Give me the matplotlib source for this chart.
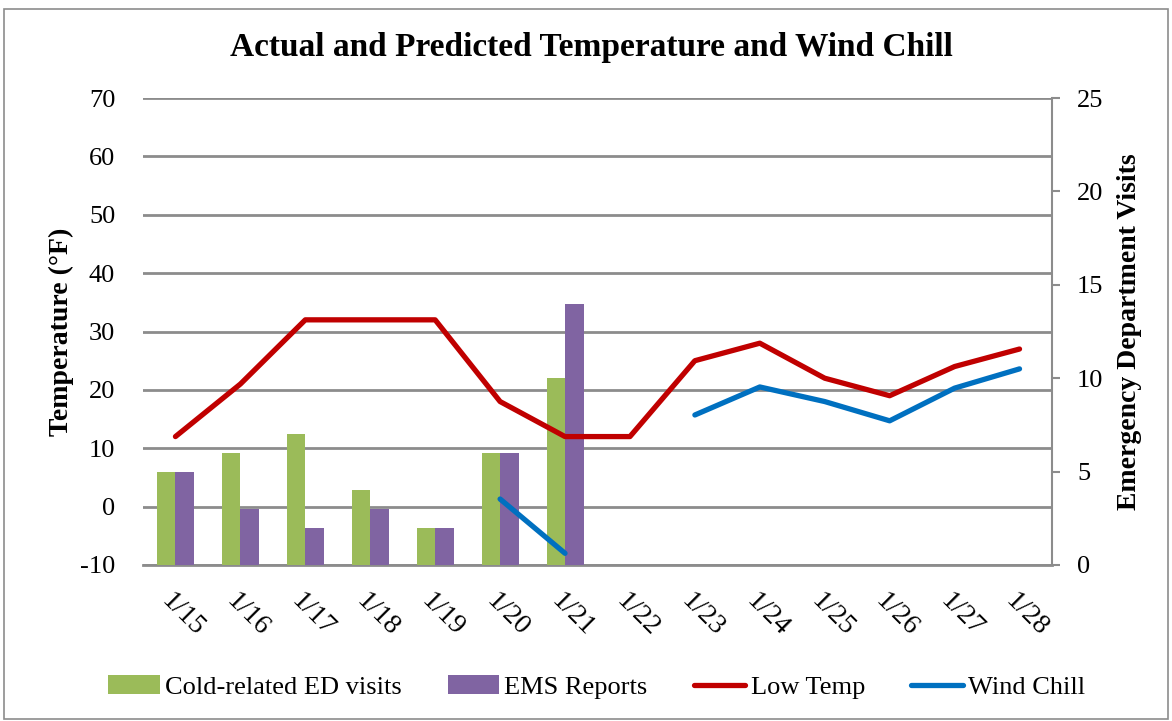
import matplotlib.pyplot as plt
import matplotlib.transforms as mtransforms
import numpy as np

dates = ['1/15', '1/16', '1/17', '1/18', '1/19', '1/20', '1/21',
         '1/22', '1/23', '1/24', '1/25', '1/26', '1/27', '1/28']
ed_visits = [5, 6, 7, 4, 2, 6, 10, 0, 0, 0, 0, 0, 0, 0]
ems_reports = [5, 3, 2, 3, 2, 6, 14, 0, 0, 0, 0, 0, 0, 0]
low_temp = [12, 21, 32, 32, 32, 18, 12, 12, 25, 28, 22, 19, 24, 27]
wind_chill = [np.nan, np.nan, np.nan, np.nan, np.nan, 1.3, -8, np.nan,
              15.7, 20.5, 18, 14.7, 20.3, 23.6]

plt.rcParams['font.family'] = ['Liberation Serif', 'DejaVu Serif']
plt.rcParams['axes.unicode_minus'] = False

fig = plt.figure(figsize=(11.72, 7.21), dpi=100)
# outer border like the spreadsheet chart frame
fig.patches.append(plt.Rectangle((0.003, 0.003), 0.994, 0.985, transform=fig.transFigure,
                                 fill=False, edgecolor='#8c8c8c', linewidth=1.2))

rect = [0.122, 0.2164, 0.7756, 0.6476]
ax = fig.add_axes(rect)          # left scale, gridlines
axb = ax.twinx()                 # bars on right scale
axl = ax.twinx()                 # lines on left scale

x = np.arange(len(dates))
w = 0.285

ax.set_ylim(-10, 70)
ax.set_yticks(range(-10, 71, 10))
ax.grid(axis='y', color='#8c8c8c', linewidth=2)
ax.tick_params(axis='y', length=0, labelsize=19, pad=20)
ax.tick_params(axis='x', length=0)
for s in ['left', 'top', 'right']:
    ax.spines[s].set_visible(False)
ax.spines['bottom'].set_color('#8c8c8c')
ax.spines['bottom'].set_linewidth(2)
ax.set_ylabel('Temperature (°F)', fontsize=20, fontweight='bold', labelpad=4)
ax.set_xlim(-0.5, len(dates) - 0.5)
ax.set_xticks(x)
ax.set_xticklabels(dates, rotation=-45, ha='left', va='center', rotation_mode='anchor', fontsize=20)
shift = mtransforms.ScaledTranslation(-0.10, -0.28, fig.dpi_scale_trans)
for lbl in ax.get_xticklabels():
    lbl.set_transform(lbl.get_transform() + shift)

axb.bar(x - w / 2, ed_visits, w, color='#9BBB59', label='Cold-related ED visits')
axb.bar(x + w / 2, ems_reports, w, color='#8064A2', label='EMS Reports')
axb.set_ylim(0, 25)
axb.set_yticks(range(0, 26, 5))
axb.tick_params(axis='y', labelsize=19, length=6, width=1.5, color='#8c8c8c', pad=12)
for s in ['left', 'top', 'bottom']:
    axb.spines[s].set_visible(False)
axb.spines['right'].set_color('#8c8c8c')
axb.spines['right'].set_linewidth(1.5)
axb.set_ylabel('Emergency Department Visits', fontsize=20, fontweight='bold', labelpad=10)

axl.plot(x, low_temp, color='#C00000', linewidth=3.8, label='Low Temp', solid_capstyle='round')
axl.plot(x, wind_chill, color='#0070C0', linewidth=3.8, label='Wind Chill', solid_capstyle='round')
axl.set_ylim(-10, 70)
axl.set_yticks([])
for s in axl.spines.values():
    s.set_visible(False)

fig.suptitle('Actual and Predicted Temperature and Wind Chill', x=0.505, y=0.955,
             fontsize=24, fontweight='bold')

h1, l1 = axb.get_legend_handles_labels()
h2, l2 = axl.get_legend_handles_labels()
fig.legend(h1 + h2, l1 + l2, loc='center', bbox_to_anchor=(0.509, 0.047), ncol=4,
           frameon=False, fontsize=19, handlelength=1.95, handletextpad=0.2, columnspacing=1.75)

fig.savefig('out.png', dpi=100)
